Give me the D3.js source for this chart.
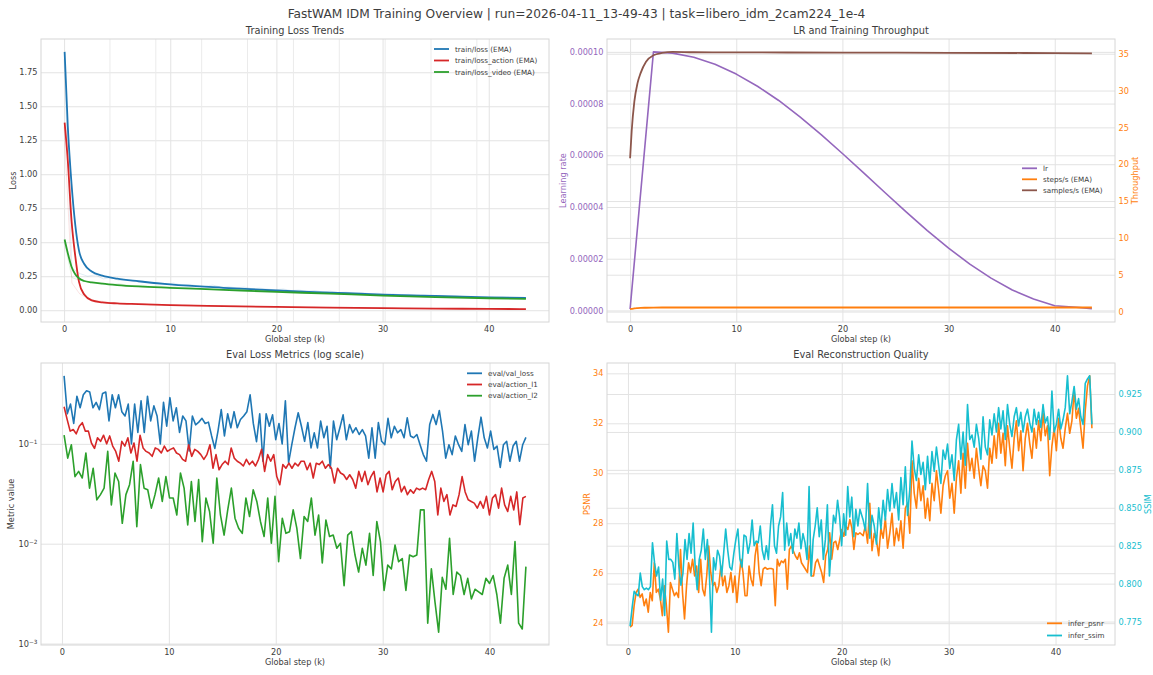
<!DOCTYPE html>
<html>
<head>
<meta charset="utf-8">
<script src="https://cdn.jsdelivr.net/npm/d3@7"></script>
<style>
  body { margin: 0; background: #fff; }
  svg { font-family: "DejaVu Sans", sans-serif; }
</style>
</head>
<body>
<script>
// ---------- data ----------
const mainTitle = 'FastWAM IDM Training Overview | run=2026-04-11_13-49-43 | task=libero_idm_2cam224_1e-4';

// training loss, EMA (k steps)
const emaSteps = [0.05, 0.35, 0.7, 1.05, 1.4, 1.9, 2.6, 3.6, 5, 7, 10, 15, 20, 25, 30, 35, 40, 43.5];
const emaLoss = [1.9, 1.35, 0.93, 0.63, 0.44, 0.34, 0.285, 0.255, 0.232, 0.213, 0.19, 0.165, 0.145, 0.13, 0.115, 0.105, 0.095, 0.09];
const emaAction = [1.38, 1.1, 0.66, 0.4, 0.21, 0.115, 0.072, 0.058, 0.05, 0.045, 0.038, 0.03, 0.024, 0.019, 0.015, 0.012, 0.01, 0.008];
const emaVideo = [0.52, 0.42, 0.32, 0.265, 0.235, 0.215, 0.205, 0.195, 0.185, 0.175, 0.165, 0.15, 0.135, 0.122, 0.108, 0.097, 0.088, 0.083];

// raw (faint) training loss
const rawLoss = [1.85, 0.31, 0.27, 0.25, 0.26, 0.23, 0.24, 0.22, 0.225, 0.21, 0.215, 0.2, 0.205, 0.19, 0.2, 0.185, 0.19, 0.18, 0.175, 0.185,
  0.17, 0.172, 0.165, 0.17, 0.158, 0.162, 0.155, 0.15, 0.156, 0.145, 0.148, 0.14, 0.145, 0.135, 0.14, 0.13, 0.133, 0.127, 0.13, 0.122,
  0.125, 0.118, 0.12, 0.113, 0.117, 0.11, 0.112, 0.106, 0.109, 0.103, 0.105, 0.1, 0.102, 0.097, 0.099, 0.094, 0.096, 0.091, 0.093, 0.09];
const rawAction = [1.35, 0.2, 0.12, 0.09, 0.07, 0.065, 0.055, 0.05, 0.052, 0.045, 0.048, 0.04, 0.043, 0.038, 0.04, 0.035, 0.037, 0.033, 0.035, 0.031,
  0.033, 0.029, 0.03, 0.027, 0.029, 0.025, 0.027, 0.024, 0.025, 0.022, 0.024, 0.021, 0.022, 0.019, 0.021, 0.018, 0.019, 0.017, 0.018, 0.015,
  0.017, 0.014, 0.016, 0.013, 0.014, 0.012, 0.013, 0.011, 0.012, 0.01, 0.011, 0.01, 0.011, 0.009, 0.01, 0.009, 0.0095, 0.008, 0.009, 0.008];
const rawVideo = [0.51, 0.24, 0.22, 0.21, 0.205, 0.2, 0.19, 0.195, 0.185, 0.18, 0.183, 0.175, 0.178, 0.17, 0.172, 0.165, 0.168, 0.16, 0.162, 0.155,
  0.158, 0.15, 0.152, 0.146, 0.148, 0.142, 0.144, 0.137, 0.14, 0.133, 0.135, 0.129, 0.131, 0.125, 0.127, 0.121, 0.123, 0.117, 0.119, 0.113,
  0.115, 0.109, 0.111, 0.105, 0.107, 0.102, 0.104, 0.099, 0.1, 0.096, 0.097, 0.093, 0.094, 0.09, 0.091, 0.088, 0.089, 0.086, 0.087, 0.084];
const rawFirst = 0, rawLast = 43.5;
const epochMarks = [4.32, 8.64, 12.96, 17.28, 21.6, 25.92, 30.24, 34.56, 38.88];

// learning rate + throughput
const lrSteps = [0, 2.2, 4, 6, 8, 10, 12, 14, 16, 18, 20, 22, 24, 26, 28, 30, 32, 34, 36, 38, 40, 42, 43.5];
const lrValues = [0.0000005, 0.0001, 0.0000995, 0.0000979, 0.0000952, 0.0000914, 0.0000867, 0.0000812, 0.0000749, 0.000068, 0.0000607,
  0.0000532, 0.0000456, 0.0000381, 0.0000309, 0.0000241, 0.0000179, 0.0000125, 0.0000079, 0.0000044, 0.0000018, 0.0000012, 0.0000007];
const tputSteps = [0, 0.15, 0.4, 0.7, 1.0, 1.5, 2.2, 3, 4, 6, 10, 20, 30, 40, 43.5];
const stepsPerSec = [0.33, 0.37, 0.43, 0.47, 0.5, 0.52, 0.54, 0.55, 0.55, 0.55, 0.55, 0.55, 0.55, 0.55, 0.55];
const samplesPerSec = [20.8, 24.5, 28.5, 31.0, 32.4, 33.9, 34.8, 35.1, 35.25, 35.2, 35.18, 35.15, 35.12, 35.08, 35.05];

// eval losses (log scale), evaluated evenly from 0.2k to 43.4k
const evalFirst = 0.2, evalLast = 43.4;
const evalValLoss = [
  0.48, 0.20, 0.25, 0.16, 0.30, 0.23, 0.31, 0.34, 0.33, 0.23,
  0.26, 0.22, 0.32, 0.33, 0.17, 0.31, 0.23, 0.31, 0.21, 0.19,
  0.25, 0.10, 0.25, 0.13, 0.27, 0.13, 0.30, 0.17, 0.24, 0.19,
  0.10, 0.26, 0.15, 0.29, 0.17, 0.23, 0.13, 0.19, 0.17, 0.085,
  0.19, 0.155, 0.165, 0.18, 0.16, 0.165, 0.12, 0.09, 0.135, 0.22,
  0.12, 0.20, 0.145, 0.21, 0.145, 0.175, 0.19, 0.21, 0.31, 0.16,
  0.105, 0.20, 0.067, 0.20, 0.15, 0.195, 0.11, 0.16, 0.10, 0.27,
  0.065, 0.098, 0.145, 0.205, 0.15, 0.106, 0.163, 0.091, 0.129, 0.091,
  0.169, 0.115, 0.15, 0.057, 0.169, 0.11, 0.145, 0.195, 0.11, 0.156,
  0.129, 0.145, 0.124, 0.139, 0.12, 0.072, 0.145, 0.072, 0.163, 0.106,
  0.098, 0.18, 0.115, 0.15, 0.129, 0.139, 0.115, 0.182, 0.12, 0.115,
  0.124, 0.098, 0.078, 0.067, 0.156, 0.197, 0.156, 0.216, 0.134, 0.072,
  0.098, 0.078, 0.12, 0.098, 0.084, 0.156, 0.098, 0.134, 0.067, 0.115,
  0.185, 0.115, 0.091, 0.134, 0.088, 0.095, 0.058, 0.098, 0.106, 0.067,
  0.095, 0.106, 0.067, 0.098, 0.116];
const evalActionL1 = [
  0.235, 0.176, 0.134, 0.139, 0.126, 0.15, 0.163, 0.134, 0.134, 0.102,
  0.09, 0.115, 0.106, 0.122, 0.1, 0.12, 0.095, 0.084, 0.067, 0.106,
  0.095, 0.115, 0.081, 0.102, 0.067, 0.122, 0.091, 0.084, 0.081, 0.075,
  0.091, 0.088, 0.081, 0.095, 0.084, 0.088, 0.091, 0.081, 0.078, 0.07,
  0.067, 0.098, 0.075, 0.088, 0.084, 0.078, 0.07, 0.078, 0.098, 0.057,
  0.078, 0.055, 0.062, 0.067, 0.062, 0.091, 0.072, 0.067, 0.064, 0.06,
  0.07, 0.062, 0.067, 0.06, 0.07, 0.088, 0.053, 0.078, 0.067, 0.078,
  0.047, 0.039, 0.062, 0.057, 0.064,
  0.057, 0.064, 0.06, 0.067, 0.067, 0.055, 0.064, 0.0455, 0.064, 0.062,
  0.067, 0.057, 0.062, 0.057, 0.0405, 0.057, 0.051, 0.049, 0.044, 0.049,
  0.044, 0.036, 0.053, 0.042, 0.053, 0.039, 0.047, 0.053, 0.033, 0.0455,
  0.033, 0.049, 0.053, 0.0347, 0.042, 0.0455, 0.033, 0.0375, 0.031, 0.0347,
  0.032, 0.036, 0.0347, 0.036, 0.0347, 0.044, 0.053, 0.042, 0.0194, 0.036,
  0.0265, 0.031, 0.0194, 0.0245, 0.0236, 0.031, 0.047, 0.033, 0.0275, 0.0265,
  0.0255, 0.0227, 0.0265, 0.0227, 0.0298, 0.0194, 0.0287, 0.031, 0.0227, 0.036,
  0.0245, 0.021, 0.0298, 0.0218, 0.033, 0.0155, 0.0287, 0.0298];
const evalActionL2 = [
  0.122, 0.072, 0.098, 0.047, 0.053, 0.0455, 0.081, 0.036, 0.057, 0.0275,
  0.031, 0.036, 0.084, 0.0245, 0.051, 0.042, 0.016, 0.031, 0.039, 0.067,
  0.0148, 0.062, 0.036, 0.0347, 0.0227, 0.031, 0.0455, 0.0265, 0.047, 0.0287,
  0.0287, 0.0194, 0.051, 0.036, 0.0154, 0.042, 0.0167, 0.044, 0.0105, 0.0287,
  0.021, 0.0101, 0.0455, 0.0194, 0.0122, 0.0218, 0.036, 0.018, 0.0143, 0.0127,
  0.0287, 0.0187, 0.0347, 0.0265, 0.0167, 0.0118, 0.0287, 0.0101, 0.0298, 0.0066,
  0.018,
  0.0127, 0.0132, 0.0218, 0.0143, 0.0071, 0.0187, 0.0167, 0.0287, 0.0122, 0.0194,
  0.0064, 0.0173, 0.0118, 0.0122, 0.009, 0.0101, 0.0038, 0.0122, 0.0132, 0.0077,
  0.0052, 0.009, 0.0061, 0.0127, 0.0048, 0.0167, 0.0105, 0.0034, 0.0061, 0.0056,
  0.0097, 0.0066, 0.0071, 0.0034, 0.0077, 0.0074, 0.0077, 0.0218, 0.0218, 0.0016,
  0.0056, 0.0026, 0.0013, 0.0046, 0.0035, 0.0113, 0.0031, 0.0052, 0.0048, 0.0031,
  0.0045, 0.0028, 0.0035, 0.0033, 0.0031, 0.0045, 0.004, 0.0048, 0.0031, 0.0016,
  0.0045, 0.0061, 0.0031, 0.0105, 0.0016, 0.0014, 0.0059];

// eval reconstruction quality: first block 0.2k-21.7k, second block 22.0k-43.4k
const recSpanA = [0.2, 21.7], recSpanB = [22.0, 43.4];
const psnrA = [
  23.84, 23.91, 24.70, 25.23, 25.36, 25.03, 25.17, 24.70, 24.97, 24.44,
  25.23, 24.90, 26.42, 25.23, 25.36, 24.97, 24.30, 25.50, 24.70, 23.64,
  25.63, 25.36, 25.10, 25.23, 25.03, 26.95, 25.23, 24.17, 25.50, 26.42,
  26.03, 26.56, 25.89, 26.29, 25.23, 26.56, 25.36, 25.10, 25.89, 27.09,
  26.03, 25.50, 25.63, 25.23, 25.50, 26.29, 25.50, 25.89, 25.23, 25.50,
  26.03, 25.23, 25.89, 24.83, 25.76, 26.56, 26.03, 25.10, 25.10, 26.29,
  25.76, 25.50, 26.69, 27.22, 26.03, 25.50, 26.16, 26.23, 26.16, 26.19,
  26.19, 26.16, 24.70, 26.56, 26.29, 26.49, 26.42, 26.56, 25.36, 26.95,
  27.09, 26.89, 26.69, 26.56, 26.82, 26.42, 26.29, 26.16, 26.03, 27.09,
  25.89, 25.89, 26.42, 26.56, 26.29, 26.03, 25.63, 26.69, 26.95, 27.62,
  26.56, 27.22, 27.28, 26.95, 27.35, 27.75, 27.48, 27.88, 27.75, 28.15,
  27.81, 26.95, 27.62, 27.55, 27.62];
const psnrB = [
  27.5, 27.9, 27.2, 28.8, 26.9, 27.6, 27.3, 26.7, 27.8, 27.4, 28.2, 27.0, 27.6, 28.4, 27.1, 27.8, 27.3, 28.1, 27.0, 28.6, 28.8, 27.6,
  30.5, 29.2, 28.6, 29.8, 28.9, 29.5, 28.2, 29.0, 28.1, 29.6, 28.9, 30.1, 29.3, 28.4, 29.5, 29.9, 30.1,
  29.0, 29.6, 28.4, 29.8, 30.5, 29.2, 30.8, 29.4, 31.2, 30.1, 30.6, 29.8, 31.0, 30.2, 29.5, 30.3, 30.1, 29.4, 31.0,
  30.4, 31.5, 30.6, 32.0, 30.8, 31.6, 30.3, 31.9, 31.0, 30.2, 31.4, 32.1, 30.9, 31.7, 30.1, 31.4, 32.0, 31.2, 30.6,
  31.8, 31.0, 32.1, 31.3, 32.4, 31.5, 31.9, 29.9, 31.1, 31.8, 30.9, 32.2, 31.4, 31.0, 31.8, 32.4, 31.6, 32.1,
  33.3, 32.2, 32.6, 31.8, 31.0, 32.5, 33.5, 33.9, 31.8];
const ssimA = [
  0.772, 0.784, 0.795, 0.793, 0.792, 0.807, 0.798, 0.796, 0.797, 0.796,
  0.798, 0.827, 0.814, 0.805, 0.811, 0.789, 0.803, 0.779, 0.828, 0.816,
  0.816, 0.814, 0.803, 0.833, 0.811, 0.799, 0.807, 0.829, 0.816, 0.833,
  0.82, 0.84, 0.811, 0.796, 0.816, 0.822, 0.836, 0.816, 0.829, 0.805,
  0.768, 0.817, 0.809, 0.822, 0.818, 0.805, 0.82, 0.836, 0.822, 0.811,
  0.809, 0.82, 0.829, 0.836, 0.816, 0.811, 0.832, 0.831, 0.82, 0.827,
  0.842, 0.825, 0.828, 0.827, 0.838, 0.822, 0.816, 0.825, 0.816, 0.838,
  0.852, 0.825, 0.82, 0.838, 0.844, 0.86, 0.822, 0.84, 0.825, 0.833,
  0.82, 0.836, 0.83, 0.84, 0.823, 0.833, 0.827, 0.816, 0.864, 0.805,
  0.829, 0.838, 0.85, 0.831, 0.842, 0.816, 0.829, 0.852, 0.805, 0.825,
  0.845, 0.84, 0.855, 0.844, 0.825, 0.846, 0.832, 0.864, 0.844, 0.857,
  0.831, 0.849, 0.838, 0.849];
const ssimB = [
  0.842, 0.835, 0.866, 0.830, 0.845, 0.838, 0.826, 0.85, 0.836, 0.855, 0.842, 0.862, 0.848, 0.866, 0.85, 0.86, 0.842, 0.87, 0.852, 0.877, 0.845, 0.862,
  0.894, 0.876, 0.868, 0.885, 0.872, 0.88, 0.862, 0.884, 0.866, 0.887, 0.874, 0.89, 0.878, 0.866, 0.888, 0.882, 0.892,
  0.876, 0.885, 0.868, 0.895, 0.905, 0.882, 0.9, 0.878, 0.918, 0.895, 0.898, 0.89, 0.905, 0.896, 0.882, 0.91, 0.89, 0.885, 0.908,
  0.898, 0.912, 0.9, 0.916, 0.902, 0.914, 0.895, 0.918, 0.905, 0.897, 0.91, 0.916, 0.904, 0.913, 0.9, 0.91, 0.915, 0.906, 0.9,
  0.915, 0.905, 0.913, 0.903, 0.918, 0.906, 0.91, 0.895, 0.927, 0.9, 0.905, 0.915, 0.902, 0.908, 0.916, 0.937, 0.912, 0.92,
  0.93, 0.915, 0.922, 0.91, 0.905, 0.932, 0.935, 0.937, 0.905];

// ticks
const stepTicks = [0, 10, 20, 30, 40];
const lossTicks = [0, 0.25, 0.5, 0.75, 1.0, 1.25, 1.5, 1.75];
const lrTicks = [0, 0.00002, 0.00004, 0.00006, 0.00008, 0.0001];
const tputTicks = [0, 5, 10, 15, 20, 25, 30, 35];
const logTicks = [0.001, 0.01, 0.1];
const logTickExp = ['\u22123', '\u22122', '\u22121'];
const psnrTicks = [24, 26, 28, 30, 32, 34];
const ssimTicks = [0.775, 0.8, 0.825, 0.85, 0.875, 0.9, 0.925];

// ---------- drawing ----------
const W = 1153, H = 675;
const COL = { blue: '#1f77b4', orange: '#ff7f0e', green: '#2ca02c', red: '#d62728', purple: '#9467bd', brown: '#8c564b', cyan: '#17becf' };
const TEXT = '#3d3d3d', GRID = '#e3e3e3', EDGE = '#d6d6d6';
const FS = { tick: 8.2, label: 8.2, title: 9.8, legend: 7.2 };

const svg = d3.select('body').append('svg').attr('width', W).attr('height', H);

function linspace(a, b, n) { return d3.range(n).map(i => a + (b - a) * i / (n - 1)); }
function pad(ext) { const s = ext[1] - ext[0]; return [ext[0] - s * 0.05, ext[1] + s * 0.05]; }
function padLog(ext) {
  const a = Math.log10(ext[0]), b = Math.log10(ext[1]), s = b - a;
  return [Math.pow(10, a - s * 0.05), Math.pow(10, b + s * 0.05)];
}
function zip(xs, ys) { return ys.map((v, i) => [xs[i], v]); }

function styleAxis(sel, color) {
  sel.attr('font-family', null).attr('font-size', FS.tick);
  sel.select('.domain').remove();
  sel.selectAll('.tick line').attr('stroke', GRID).attr('stroke-width', 1);
  sel.selectAll('.tick text').attr('fill', color);
}

function panelFrame(box, title) {
  const g = svg.append('g');
  g.append('text')
    .attr('x', (box.x0 + box.x1) / 2).attr('y', box.y0 - 5.5)
    .attr('text-anchor', 'middle').attr('font-size', FS.title).attr('fill', TEXT)
    .text(title);
  g.append('text')
    .attr('x', (box.x0 + box.x1) / 2).attr('y', box.y1 + 19.5)
    .attr('text-anchor', 'middle').attr('font-size', FS.label).attr('fill', TEXT)
    .text('Global step (k)');
  return g;
}

function xAxis(g, box, x) {
  const ax = g.append('g').attr('transform', `translate(0,${box.y1})`)
    .call(d3.axisBottom(x).tickValues(stepTicks).tickSize(-(box.y1 - box.y0)).tickPadding(4.2).tickFormat(d3.format('d')));
  styleAxis(ax, TEXT);
}

function yAxisLeft(g, box, y, ticks, fmt, color) {
  const ax = g.append('g').attr('transform', `translate(${box.x0},0)`)
    .call(d3.axisLeft(y).tickValues(ticks).tickSize(-(box.x1 - box.x0)).tickPadding(3.5).tickFormat(fmt));
  styleAxis(ax, color);
  return ax;
}

function yAxisRight(g, box, y, ticks, fmt, color) {
  const ax = g.append('g').attr('transform', `translate(${box.x1},0)`)
    .call(d3.axisRight(y).tickValues(ticks).tickSize(-(box.x1 - box.x0)).tickPadding(3.5).tickFormat(fmt));
  styleAxis(ax, color);
  return ax;
}

function yLabel(g, x, box, text, color) {
  g.append('text')
    .attr('transform', `translate(${x},${(box.y0 + box.y1) / 2}) rotate(-90)`)
    .attr('dy', '0.35em').attr('text-anchor', 'middle')
    .attr('font-size', FS.label).attr('fill', color).text(text);
}

function drawLine(g, pts, x, y, color, opts = {}) {
  const line = d3.line().x(d => x(d[0])).y(d => y(d[1])).curve(opts.curve || d3.curveLinear);
  g.append('path').datum(pts)
    .attr('d', line).attr('fill', 'none')
    .attr('stroke', color).attr('stroke-width', opts.width || 1.6)
    .attr('stroke-opacity', opts.opacity == null ? 1 : opts.opacity)
    .attr('stroke-linejoin', 'round').attr('stroke-linecap', 'butt');
}

function border(g, box) {
  g.append('rect').attr('x', box.x0).attr('y', box.y0)
    .attr('width', box.x1 - box.x0).attr('height', box.y1 - box.y0)
    .attr('fill', 'none').attr('stroke', EDGE).attr('stroke-width', 1);
}

function legend(g, x, y, gap, items) {
  items.forEach((it, i) => {
    const yy = y + i * gap;
    g.append('line').attr('x1', x).attr('x2', x + 15).attr('y1', yy).attr('y2', yy)
      .attr('stroke', it.color).attr('stroke-width', 1.8);
    g.append('text').attr('x', x + 21).attr('y', yy).attr('dy', '0.35em')
      .attr('font-size', FS.legend).attr('fill', TEXT).text(it.label);
  });
}

// main title
svg.append('text').attr('x', W / 2).attr('y', 17.5).attr('text-anchor', 'middle')
  .attr('font-size', 12.2).attr('fill', TEXT).text(mainTitle);

// ---- panel 1: training loss ----
{
  const box = { x0: 41, x1: 549, y0: 39, y1: 322 };
  const g = panelFrame(box, 'Training Loss Trends');
  const rawSteps = linspace(rawFirst, rawLast, rawLoss.length);
  const x = d3.scaleLinear().domain(pad(d3.extent(emaSteps.concat(rawSteps)))).range([box.x0, box.x1]);
  const y = d3.scaleLinear()
    .domain(pad(d3.extent([].concat(emaLoss, emaAction, emaVideo, rawLoss, rawAction, rawVideo))))
    .range([box.y1, box.y0]);
  xAxis(g, box, x);
  yAxisLeft(g, box, y, lossTicks, d3.format('.2f'), TEXT);
  g.selectAll('.epoch').data(epochMarks).enter().append('line')
    .attr('x1', d => x(d)).attr('x2', d => x(d)).attr('y1', box.y0).attr('y2', box.y1)
    .attr('stroke', '#ebebeb').attr('stroke-width', 1);
  drawLine(g, zip(rawSteps, rawLoss), x, y, COL.blue, { width: 1, opacity: 0.13 });
  drawLine(g, zip(rawSteps, rawAction), x, y, COL.red, { width: 1, opacity: 0.13 });
  drawLine(g, zip(rawSteps, rawVideo), x, y, COL.green, { width: 1, opacity: 0.13 });
  drawLine(g, zip(emaSteps, emaLoss), x, y, COL.blue, { curve: d3.curveMonotoneX, width: 1.8 });
  drawLine(g, zip(emaSteps, emaAction), x, y, COL.red, { curve: d3.curveMonotoneX, width: 1.8 });
  drawLine(g, zip(emaSteps, emaVideo), x, y, COL.green, { curve: d3.curveMonotoneX, width: 1.8 });
  border(g, box);
  yLabel(g, 13, box, 'Loss', TEXT);
  legend(g, 434, 49, 11.5, [
    { label: 'train/loss (EMA)', color: COL.blue },
    { label: 'train/loss_action (EMA)', color: COL.red },
    { label: 'train/loss_video (EMA)', color: COL.green }]);
}

// ---- panel 2: LR and throughput ----
{
  const box = { x0: 607, x1: 1115, y0: 39, y1: 322 };
  const g = panelFrame(box, 'LR and Training Throughput');
  const x = d3.scaleLinear().domain(pad(d3.extent(lrSteps.concat(tputSteps)))).range([box.x0, box.x1]);
  const yL = d3.scaleLinear().domain(pad(d3.extent(lrValues))).range([box.y1, box.y0]);
  const yR = d3.scaleLinear().domain(pad(d3.extent(stepsPerSec.concat(samplesPerSec)))).range([box.y1, box.y0]);
  xAxis(g, box, x);
  yAxisLeft(g, box, yL, lrTicks, d3.format('.5f'), COL.purple);
  yAxisRight(g, box, yR, tputTicks, d3.format('d'), COL.orange);
  drawLine(g, zip(lrSteps, lrValues), x, yL, COL.purple, { width: 1.6 });
  drawLine(g, zip(tputSteps, stepsPerSec), x, yR, COL.orange, { curve: d3.curveMonotoneX, width: 1.8 });
  drawLine(g, zip(tputSteps, samplesPerSec), x, yR, COL.brown, { curve: d3.curveMonotoneX, width: 1.8 });
  border(g, box);
  yLabel(g, 563, box, 'Learning rate', COL.purple);
  yLabel(g, 1135, box, 'Throughput', COL.orange);
  legend(g, 1022, 168.3, 11, [
    { label: 'lr', color: COL.purple },
    { label: 'steps/s (EMA)', color: COL.orange },
    { label: 'samples/s (EMA)', color: COL.brown }]);
}

// ---- panel 3: eval loss (log) ----
{
  const box = { x0: 41, x1: 549, y0: 363, y1: 645 };
  const g = panelFrame(box, 'Eval Loss Metrics (log scale)');
  const x = d3.scaleLinear().domain(pad([evalFirst, evalLast])).range([box.x0, box.x1]);
  const y = d3.scaleLog()
    .domain(padLog(d3.extent([].concat(evalValLoss, evalActionL1, evalActionL2))))
    .range([box.y1, box.y0]);
  xAxis(g, box, x);
  const ax = yAxisLeft(g, box, y, logTicks, () => '10', TEXT);
  ax.selectAll('.tick text').each(function (d, i) {
    d3.select(this).append('tspan').attr('baseline-shift', 'super')
      .attr('font-size', FS.tick * 0.7).text(logTickExp[i]);
  });
  const series = [[evalValLoss, COL.blue], [evalActionL1, COL.red], [evalActionL2, COL.green]];
  series.forEach(([vals, c]) => {
    drawLine(g, zip(linspace(evalFirst, evalLast, vals.length), vals), x, y, c, { width: 1.6 });
  });
  border(g, box);
  yLabel(g, 11, box, 'Metric value', TEXT);
  legend(g, 467, 373.3, 11.2, [
    { label: 'eval/val_loss', color: COL.blue },
    { label: 'eval/action_l1', color: COL.red },
    { label: 'eval/action_l2', color: COL.green }]);
}

// ---- panel 4: reconstruction quality ----
{
  const box = { x0: 607, x1: 1115, y0: 363, y1: 645 };
  const g = panelFrame(box, 'Eval Reconstruction Quality');
  const psnrSteps = linspace(recSpanA[0], recSpanA[1], psnrA.length).concat(linspace(recSpanB[0], recSpanB[1], psnrB.length));
  const ssimSteps = linspace(recSpanA[0], recSpanA[1], ssimA.length).concat(linspace(recSpanB[0], recSpanB[1], ssimB.length));
  const psnr = psnrA.concat(psnrB), ssim = ssimA.concat(ssimB);
  const x = d3.scaleLinear().domain(pad(d3.extent(psnrSteps))).range([box.x0, box.x1]);
  const yL = d3.scaleLinear().domain(pad(d3.extent(psnr))).range([box.y1, box.y0]);
  const yR = d3.scaleLinear().domain(pad(d3.extent(ssim))).range([box.y1, box.y0]);
  xAxis(g, box, x);
  yAxisLeft(g, box, yL, psnrTicks, d3.format('d'), COL.orange);
  yAxisRight(g, box, yR, ssimTicks, d3.format('.3f'), COL.cyan);
  drawLine(g, zip(psnrSteps, psnr), x, yL, COL.orange, { width: 1.6 });
  drawLine(g, zip(ssimSteps, ssim), x, yR, COL.cyan, { width: 1.6 });
  border(g, box);
  yLabel(g, 587, box, 'PSNR', COL.orange);
  yLabel(g, 1148, box, 'SSIM', COL.cyan);
  legend(g, 1047, 623.3, 12.2, [
    { label: 'infer_psnr', color: COL.orange },
    { label: 'infer_ssim', color: COL.cyan }]);
}
</script>
</body>
</html>
